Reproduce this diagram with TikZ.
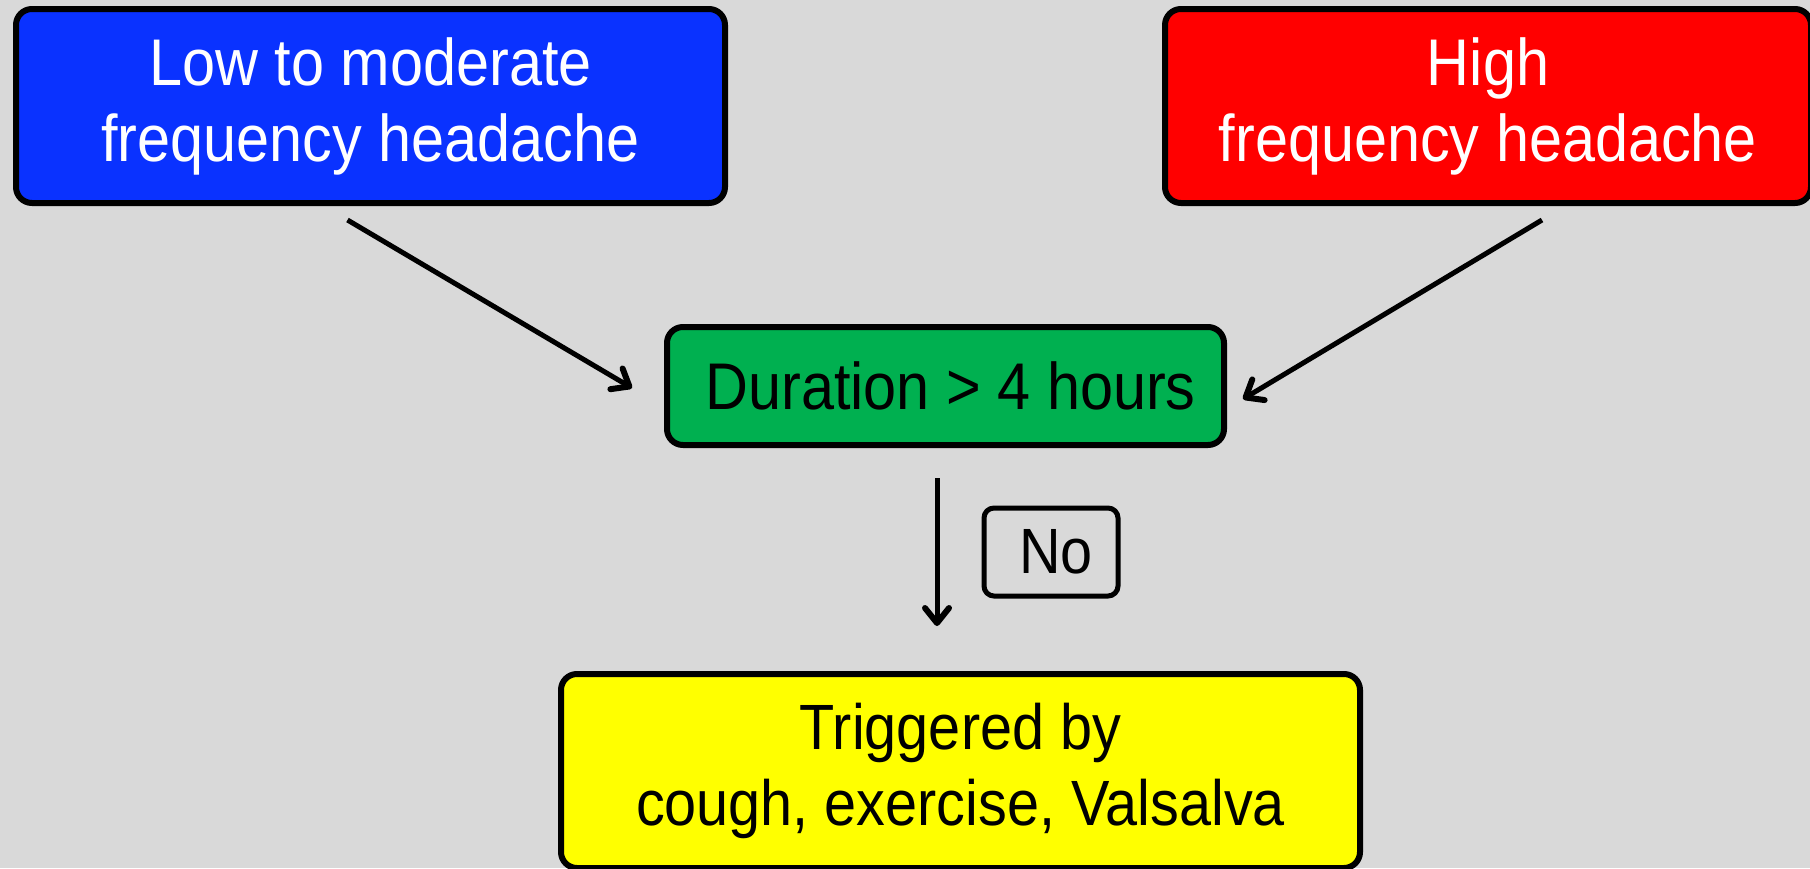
\documentclass[tikz,border=0pt]{standalone}
\usepackage{fontspec}
\setmainfont{Liberation Sans}[FakeStretch=0.9]
\usetikzlibrary{arrows.meta}

\definecolor{bgray}{HTML}{D9D9D9}
\definecolor{lowblue}{HTML}{0A32FF}
\definecolor{highred}{HTML}{FF0000}
\definecolor{durgreen}{HTML}{00B050}
\definecolor{trigyellow}{HTML}{FFFF00}

\tikzset{
  box/.style={draw=black, line width=6pt, rounded corners=16pt,
    inner sep=0pt, align=center, font=\fontsize{66}{76}\selectfont},
  labelbox/.style={draw=black, line width=5pt, rounded corners=10pt,
    inner sep=0pt, align=center, font=\fontsize{64}{74}\selectfont},
  arr/.style={draw=black, line width=5pt,
    -{Straight Barb[length=15pt, width=24pt, line width=6pt, round]}},
}

\begin{document}
\begin{tikzpicture}[x=1pt, y=-1pt]
  \fill[bgray] (0,0) rectangle (1810,868);
  \useasboundingbox (0,0) rectangle (1810,868);

  \node[box, fill=lowblue, text=white, minimum width=709pt, minimum height=194pt]
    (low) at (370.5,106) {Low to moderate\\frequency headache};
  \node[box, fill=highred, text=white, minimum width=646pt, minimum height=194pt]
    (high) at (1488,106) {High\\frequency headache};
  \node[box, fill=durgreen, text=black, minimum width=557pt, minimum height=118pt,
    text depth=0pt]
    (dur) at (945.5,386) {\hspace*{10pt}Duration > 4 hours};
  \node[labelbox, fill=none, text=black, minimum width=134pt, minimum height=88pt]
    (no) at (1051,552) {\hspace*{10pt}No};
  \node[box, fill=trigyellow, text=black, minimum width=799pt, minimum height=194pt,
    font=\fontsize{64}{76}\selectfont]
    (trig) at (960.5,771) {Triggered by\\cough, exercise, Valsalva};

  \draw[arr] ([xshift=-23pt, yshift=-14pt]low.south) -- ([xshift=-32pt, yshift=-2pt]dur.west);
  \draw[arr] ([xshift=54pt, yshift=-14pt]high.south) -- ([xshift=16pt, yshift=-13pt]dur.east);
  \draw[arr] ([xshift=-8.5pt, yshift=-30pt]dur.south) -- ([xshift=-23.5pt, yshift=45pt]trig.north);
\end{tikzpicture}
\end{document}
